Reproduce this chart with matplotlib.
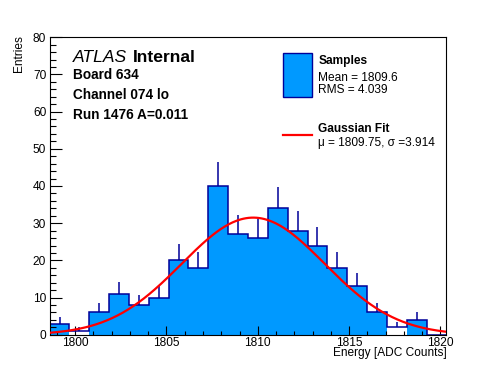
import numpy as np
import matplotlib as mpl
mpl.use('Agg')
from matplotlib import pyplot as plt
from matplotlib.patches import Rectangle
from matplotlib.lines import Line2D

plt.rcParams['font.family'] = ['Liberation Sans', 'DejaVu Sans']

# histogram range and bin contents
x_min = 1798.6
x_max = 1820.33
counts = np.array([3, 1, 6, 11, 8, 10, 20, 18, 40, 27,
                   26, 34, 28, 24, 18, 13, 6, 2, 4, 0])

# gaussian fit (mu, sigma from the legend, height)
fit_mu = 1809.75
fit_sigma = 3.914
fit_amp = 31.5

x_ticks = [1800, 1805, 1810, 1815, 1820]
y_ticks = [0, 10, 20, 30, 40, 50, 60, 70, 80]

FILL = '#0099ff'
EDGE = '#000099'
FS = 8.6          # axis / legend text size
FS_INFO = 9.8     # Board / Channel / Run lines

edges = np.linspace(x_min, x_max, len(counts) + 1)
width = edges[1] - edges[0]
centers = edges[:-1] + width / 2

fig = plt.figure(figsize=(4.96, 3.72), dpi=100)
ax = fig.add_axes([0.1, 0.1, 0.8, 0.8])

# low bins come out unfilled in the original
fills = [FILL if c > 2 else 'white' for c in counts]
ax.bar(edges[:-1], counts, width=width, align='edge', color=fills, linewidth=0, zorder=1)
ax.stairs(counts, edges, baseline=0, color=EDGE, linewidth=1.1, zorder=2)

has = counts > 0
ax.vlines(centers[has], counts[has], counts[has] + np.sqrt(counts[has]),
          color=EDGE, linewidth=1.1, zorder=3)

xf = np.linspace(x_min, x_max, 300)
yf = fit_amp * np.exp(-0.5 * ((xf - fit_mu) / fit_sigma) ** 2)
ax.plot(xf, yf, color='red', linewidth=1.6, zorder=4)

ax.set_xlim(x_min, x_max)
ax.set_ylim(0, 80)
ax.set_xticks(x_ticks)
ax.set_yticks(y_ticks)
ax.set_xticks(np.arange(1799, 1821), minor=True)
ax.set_yticks(np.arange(0, 81, 2), minor=True)
ax.tick_params(axis='both', which='both', direction='in', labelsize=FS, width=0.8)
ax.tick_params(axis='x', which='major', length=6.5, pad=1.5)
ax.tick_params(axis='x', which='minor', length=3.2)
ax.tick_params(axis='y', which='major', length=8.6, pad=2.5)
ax.tick_params(axis='y', which='minor', length=4.3)
for s in ax.spines.values():
    s.set_linewidth(0.8)

fig.text(0.038, 0.905, 'Entries', rotation=90, ha='center', va='top', fontsize=FS)
fig.text(0.9006, 0.0417, 'Energy [ADC Counts]', ha='right', va='baseline', fontsize=FS)

# ATLAS label block
fig.text(0.1466, 0.8325, 'ATLAS', style='italic', fontsize=12.6, va='baseline')
fig.text(0.2675, 0.8325, 'Internal', weight='bold', fontsize=12.6, va='baseline')
fig.text(0.1478, 0.7868, 'Board 634', weight='bold', fontsize=FS_INFO, va='baseline')
fig.text(0.1478, 0.733, 'Channel 074 lo', weight='bold', fontsize=FS_INFO, va='baseline')
fig.text(0.1478, 0.680, 'Run 1476 A=0.011', weight='bold', fontsize=FS_INFO, va='baseline')

# legend drawn by hand, ROOT style
fig.patches.append(Rectangle((0.5712, 0.74), 0.0572, 0.1167, transform=fig.transFigure,
                             facecolor=FILL, edgecolor=EDGE, linewidth=1.0))
fig.lines.append(Line2D([0.5712, 0.6284], [0.6371, 0.6371], transform=fig.transFigure,
                        color='red', linewidth=1.6))
fig.text(0.6417, 0.8272, 'Samples', weight='bold', fontsize=FS, va='baseline')
fig.text(0.6417, 0.7823, 'Mean = 1809.6', fontsize=FS, va='baseline')
fig.text(0.6417, 0.7492, 'RMS = 4.039', fontsize=FS, va='baseline')
fig.text(0.6417, 0.6444, 'Gaussian Fit', weight='bold', fontsize=FS, va='baseline')
fig.text(0.6417, 0.6075, 'μ = 1809.75, σ =3.914', fontsize=FS, va='baseline')

fig.savefig('out.png', dpi=100)
